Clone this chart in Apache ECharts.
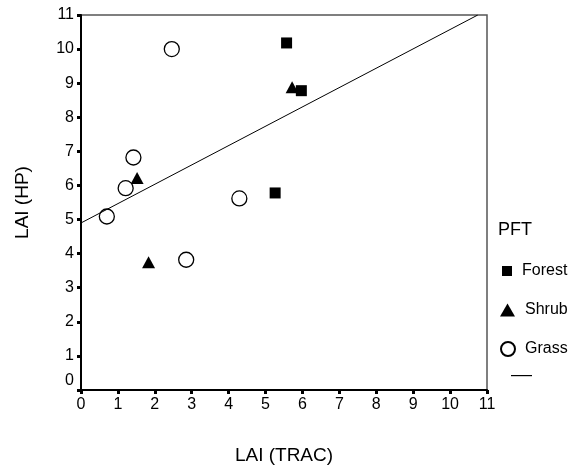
<!DOCTYPE html>
<html>
<head>
<meta charset="utf-8">
<script src="https://cdn.jsdelivr.net/npm/echarts@6/dist/echarts.min.js"></script>
<style>html,body{margin:0;padding:0;background:#fff}#c{width:575px;height:470px}</style>
</head>
<body>
<div id="c"></div>
<script>
var xTicks = [0,1,2,3,4,5,6,7,8,9,10,11];
var yTicks = [0,1,2,3,4,5,6,7,8,9,10,11];
var forest = [[5.57,10.18],[5.97,8.78],[5.26,5.78]];
var shrub = [[5.72,8.88],[1.52,6.22],[1.83,3.75]];
var grass = [[2.46,10.0],[1.42,6.82],[1.21,5.92],[0.70,5.09],[2.85,3.82],[4.29,5.62]];
var fitLine = [[0,4.9],[10.75,11]];

var FONT = '"Liberation Sans", Arial, sans-serif';
var legText = {fontFamily:FONT, fontSize:16, color:'#000', padding:[6,0,0,5]};
var chart = echarts.init(document.getElementById('c'), null, {renderer:'canvas'});
chart.setOption({
  animation:false,
  backgroundColor:'#fff',
  title:{text:'PFT', left:498, top:221, padding:0, textStyle:{fontFamily:FONT, fontSize:18, fontWeight:'normal', color:'#000'}},
  grid:{left:81, right:88, top:15, bottom:79, show:true, borderColor:'#555', borderWidth:1.5, backgroundColor:'transparent'},
  legend:[
    {left:502, top:263, padding:0, itemWidth:10, itemHeight:10, textStyle:legText, data:[{name:'Forest', icon:'rect'}]},
    {left:500, top:302, padding:0, itemWidth:15, itemHeight:13, textStyle:legText, data:[{name:'Shrub', icon:'triangle'}]},
    {left:500, top:341, padding:0, itemWidth:14, itemHeight:14, textStyle:legText, data:[{name:'Grass', icon:'circle'}]},
    {left:511, top:375, padding:0, itemWidth:21, itemHeight:1.2, textStyle:{fontSize:1}, data:[{name:' ', icon:'rect'}]}
  ],
  xAxis:{
    type:'value', min:0, max:11, interval:1,
    name:'LAI (TRAC)', nameLocation:'middle', nameGap:56,
    nameTextStyle:{fontFamily:FONT, fontSize:19, color:'#000'},
    axisLine:{show:true, onZero:false, lineStyle:{color:'#000', width:2}},
    axisTick:{show:true, length:4, lineStyle:{color:'#000', width:3}},
    axisLabel:{fontFamily:FONT, fontSize:16, color:'#000', margin:7, formatter:function(v){return xTicks.indexOf(v)>=0?String(v):'';}},
    splitLine:{show:false}
  },
  yAxis:{
    type:'value', min:0, max:11, interval:1,
    name:'LAI (HP)', nameLocation:'middle', nameGap:49,
    nameTextStyle:{fontFamily:FONT, fontSize:19, color:'#000'},
    axisLine:{show:true, onZero:false, lineStyle:{color:'#000', width:2}},
    axisTick:{show:true, length:4, lineStyle:{color:'#000', width:3}},
    axisLabel:{fontFamily:FONT, fontSize:16, color:'#000', margin:7,
      formatter:function(v){ if(yTicks.indexOf(v)<0) return ''; return v===0?'{z|0}':String(v);},
      rich:{z:{fontFamily:FONT, fontSize:16, color:'#000', padding:[0,0,18,0]}}},
    splitLine:{show:false}
  },
  series:[
    {name:'Forest', type:'scatter', symbol:'rect', symbolSize:11, data:forest, itemStyle:{color:'#000', opacity:1}},
    {name:'Shrub', type:'scatter', symbol:'triangle', symbolSize:[13,12], data:shrub, itemStyle:{color:'#000', opacity:1}},
    {name:'Grass', type:'scatter', symbol:'circle', symbolSize:15, data:grass, itemStyle:{color:'#fff', borderColor:'#000', borderWidth:1.3, opacity:1}},
    {name:' ', type:'line', data:fitLine, symbol:'none', lineStyle:{color:'#000', width:1}, itemStyle:{color:'#000'}}
  ]
});
</script>
</body>
</html>
